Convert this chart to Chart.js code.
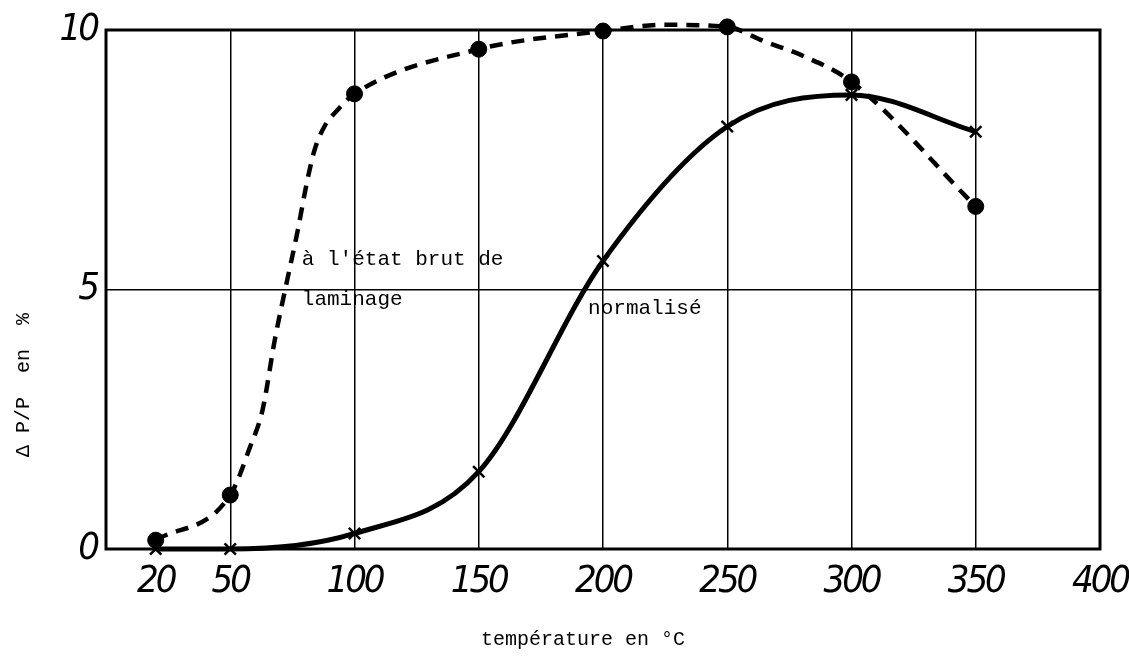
<!DOCTYPE html>
<html>
<head>
<meta charset="utf-8">
<script src="https://cdn.jsdelivr.net/npm/chart.js@4.4.1/dist/chart.umd.min.js"></script>
<style>
  html, body { margin: 0; padding: 0; background: #fff; }
  #wrap { width: 1129px; height: 656px; }
</style>
</head>
<body>
<div id="wrap"><canvas id="myChart" width="1129" height="656"></canvas></div>
<script>
// measured temperatures (°C)
var temps = [20, 50, 100, 150, 200, 250, 300, 350];
// ΔP/P en %, état brut de laminage (dashed line, dots)
var brutValues = [0.17, 1.04, 8.77, 9.63, 9.98, 10.06, 9.0, 6.6];
// ΔP/P en %, normalisé (solid line, crosses)
var normValues = [0, 0, 0.3, 1.49, 5.55, 8.14, 8.75, 8.04];
// points read off the drawn dashed curve between the markers (no markers there)
var brutCurveX = [58, 63, 68, 73, 77, 81, 84, 88, 93, 225, 265, 281];
var brutCurveY = [1.97, 2.68, 4.05, 5.2, 6.1, 7.1, 7.7, 8.15, 8.45, 10.1, 9.78, 9.49];

var xTicks = [20, 50, 100, 150, 200, 250, 300, 350, 400];
var yTicks = [0, 5, 10];

function toPoints(xs, ys) {
  return xs.map(function (x, i) { return { x: x, y: ys[i] }; });
}

var brutLine = toPoints(temps, brutValues).concat(toPoints(brutCurveX, brutCurveY))
  .sort(function (a, b) { return a.x - b.x; });

var tickFont = { family: "'Liberation Sans Narrow', 'DejaVu Sans Condensed', sans-serif", size: 38, style: 'italic' };
var monoFont = "'Liberation Mono', 'DejaVu Sans Mono', monospace";

// frame round the plot and the hand-placed texts
var paperPlugin = {
  id: 'paper',
  beforeDraw: function (chart) {
    // tighter digits for the stencil-like tick labels
    chart.ctx.letterSpacing = '-3px';
  },
  beforeDatasetsDraw: function (chart) {
    chart.ctx.letterSpacing = '0px';
  },
  afterDatasetsDraw: function (chart) {
    var c = chart.ctx, a = chart.chartArea;
    var xs = chart.scales.x, ys = chart.scales.y;
    c.save();
    c.strokeStyle = '#000';
    c.lineWidth = 3;
    c.strokeRect(a.left, a.top, a.right - a.left, a.bottom - a.top);

    c.fillStyle = '#000';
    c.font = '21px ' + monoFont;
    c.textBaseline = 'middle';
    c.textAlign = 'left';
    c.fillText("à l'état brut de", xs.getPixelForValue(78.8), ys.getPixelForValue(5.57));
    c.fillText('laminage', xs.getPixelForValue(78.8), ys.getPixelForValue(4.8));
    c.fillText('normalisé', xs.getPixelForValue(194), ys.getPixelForValue(4.64));

    c.font = '20px ' + monoFont;
    c.textAlign = 'center';
    c.fillText('température en °C', 583, 640);

    c.translate(24, 385);
    c.rotate(-Math.PI / 2);
    c.fillText('Δ P/P  en  %', 0, 0);
    c.restore();
  }
};

var ctx = document.getElementById('myChart').getContext('2d');
var chart = new Chart(ctx, {
  type: 'line',
  data: {
    datasets: [{
      label: 'normalisé',
      data: toPoints(temps, normValues),
      borderColor: '#000',
      borderWidth: 5,
      pointRadius: 0,
      cubicInterpolationMode: 'monotone',
      clip: false
    }, {
      label: "à l'état brut de laminage",
      data: brutLine,
      borderColor: '#000',
      borderWidth: 4.5,
      borderDash: [13, 9],
      pointRadius: 0,
      cubicInterpolationMode: 'monotone',
      clip: false
    }, {
      label: 'normalisé (points)',
      data: toPoints(temps, normValues),
      showLine: false,
      pointStyle: 'crossRot',
      pointRadius: 8,
      pointBorderWidth: 2.5,
      pointBorderColor: '#000',
      clip: false
    }, {
      label: 'brut (points)',
      data: toPoints(temps, brutValues),
      showLine: false,
      pointStyle: 'circle',
      pointRadius: 8,
      pointBackgroundColor: '#000',
      pointBorderColor: '#000',
      clip: false
    }]
  },
  options: {
    responsive: false,
    animation: false,
    events: [],
    layout: { padding: { left: 0, top: 30, right: 29, bottom: 0 } },
    plugins: {
      legend: { display: false },
      tooltip: { enabled: false }
    },
    scales: {
      x: {
        type: 'linear',
        min: 0,
        max: 400,
        afterBuildTicks: function (scale) {
          scale.ticks = xTicks.map(function (v) { return { value: v }; });
        },
        afterFit: function (scale) {
          scale.height = 107;
          scale.paddingLeft = 0;
          scale.paddingRight = 0;
        },
        border: { display: false },
        grid: {
          drawTicks: false,
          lineWidth: 1.5,
          color: function (c) {
            return (c.tick && c.tick.value >= 50 && c.tick.value < 400) ? '#000' : 'rgba(0,0,0,0)';
          }
        },
        ticks: { padding: 10, color: '#000', font: tickFont, maxRotation: 0, autoSkip: false }
      },
      y: {
        min: 0,
        max: 10,
        afterBuildTicks: function (scale) {
          scale.ticks = yTicks.map(function (v) { return { value: v }; });
        },
        afterFit: function (scale) {
          scale.width = 106;
          scale.paddingTop = 0;
          scale.paddingBottom = 0;
        },
        border: { display: false },
        grid: {
          drawTicks: false,
          lineWidth: 1.5,
          color: function (c) {
            return (c.tick && c.tick.value === 5) ? '#000' : 'rgba(0,0,0,0)';
          }
        },
        ticks: { padding: 9, color: '#000', font: tickFont }
      }
    }
  },
  plugins: [paperPlugin]
});
</script>
</body>
</html>
